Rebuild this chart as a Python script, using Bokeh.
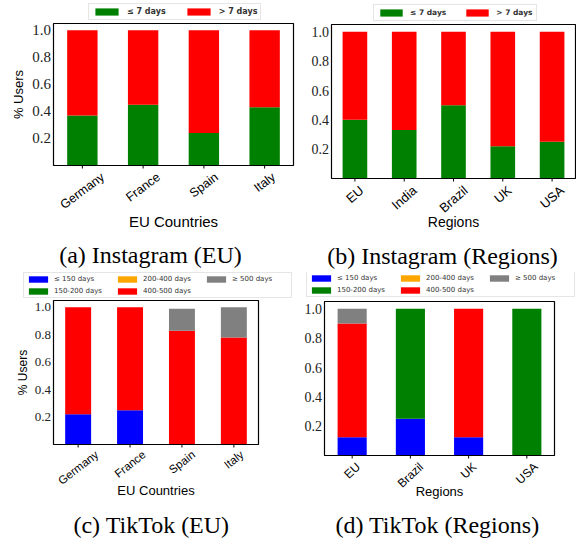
import math
from bokeh.plotting import figure
from bokeh.layouts import column, row
from bokeh.models import Range1d, Legend, LegendItem, ColumnDataSource
from bokeh.core.properties import value
from bokeh.embed import file_html
from bokeh.resources import INLINE

# ---------------- data ----------------
eu_countries = ["Germany", "France", "Spain", "Italy"]
insta_regions = ["EU", "India", "Brazil", "UK", "USA"]
tiktok_regions = ["EU", "Brazil", "UK", "USA"]

insta_legend = ["≤ 7 days", "> 7 days"]
insta_colors = ["#008000", "#ff0000"]
insta_eu_le7 = [0.37, 0.45, 0.24, 0.43]
insta_eu_gt7 = [0.63, 0.55, 0.76, 0.57]
insta_reg_le7 = [0.40, 0.33, 0.50, 0.22, 0.25]
insta_reg_gt7 = [0.60, 0.67, 0.50, 0.78, 0.75]

tiktok_legend = ["≤ 150 days", "150-200 days", "200-400 days", "400-500 days", "≥ 500 days"]
tiktok_colors = ["#0000ff", "#008000", "#ffa500", "#ff0000", "#808080"]
tiktok_eu_le150 = [0.22, 0.25, 0.0, 0.0]
tiktok_eu_150_200 = [0.0, 0.0, 0.0, 0.0]
tiktok_eu_200_400 = [0.0, 0.0, 0.0, 0.0]
tiktok_eu_400_500 = [0.78, 0.75, 0.83, 0.78]
tiktok_eu_ge500 = [0.0, 0.0, 0.16, 0.22]
tiktok_reg_le150 = [0.125, 0.25, 0.125, 0.0]
tiktok_reg_150_200 = [0.0, 0.75, 0.0, 1.0]
tiktok_reg_200_400 = [0.0, 0.0, 0.0, 0.0]
tiktok_reg_400_500 = [0.775, 0.0, 0.875, 0.0]
tiktok_reg_ge500 = [0.10, 0.0, 0.0, 0.0]

y_ticks = [0.2, 0.4, 0.6, 0.8, 1.0]
y_max = 1.05
y_title = "% Users"
x_title_eu = "EU Countries"
x_title_reg = "Regions"
captions = ["(a) Instagram (EU)", "(b) Instagram (Regions)", "(c) TikTok (EU)", "(d) TikTok (Regions)"]

# ---------------- helpers ----------------
SANS_W = {"G": 778, "e": 556, "r": 333, "m": 833, "a": 556, "n": 556, "y": 500, "F": 611,
          "c": 500, "S": 667, "p": 556, "i": 222, "I": 278, "t": 278, "l": 222, "E": 667,
          "U": 722, "d": 556, "B": 667, "z": 500, "K": 667, "A": 667, " ": 278}


def est_width(s, fs):
    return sum(SANS_W.get(ch, 556) for ch in s) / 1000.0 * fs


def make_panel(cats, stacks, colors, names, xtitle, ytitle, caption, cfg):
    n = len(cats)
    xs = list(range(n))
    W, H = cfg["W"], cfg["H"]
    L, R, T, B = cfg["box"]           # plot box inside the canvas (px)
    x_start, x_end = -0.475, n - 1 + 0.475
    ppx = (R - L) / (x_end - x_start)
    ppy = (B - T) / y_max
    xr = Range1d(x_start - L / ppx, x_end + (W - R) / ppx)
    yr = Range1d(-(H - B) / ppy, y_max + T / ppy)

    def dx(px):
        return px / ppx

    def dy(px):
        return px / ppy

    p = figure(width=W, height=H, x_range=xr, y_range=yr, x_axis_type=None, y_axis_type=None,
               output_backend="svg", toolbar_location=None, min_border=0)
    p.outline_line_color = None
    p.background_fill_color = "white"
    p.border_fill_color = "white"

    data = {"x": xs}
    keys = []
    for k, vals in enumerate(stacks):
        data[f"s{k}"] = vals
        keys.append(f"s{k}")
    source = ColumnDataSource(data)
    rends = p.vbar_stack(keys, x="x", width=0.5, source=source,
                         fill_color=colors, line_color=None)

    # plot box and x tick marks
    p.quad(left=[x_start], right=[x_end], bottom=[0], top=[y_max],
           fill_color=None, line_color="black", line_width=1.2)
    p.segment(x0=xs, y0=[0] * n, x1=xs, y1=[-dy(3)] * n, line_color="black", line_width=1)

    # y tick labels
    p.text(x=[x_start] * len(y_ticks), y=y_ticks, text=[f"{t:.1f}" for t in y_ticks],
           x_offset=-2.5, text_align="right", text_baseline="middle",
           text_font=value("Liberation Serif"), text_font_size=f"{cfg['yfs']}px",
           text_color="#222222")

    # rotated category labels, centred under the bars
    fs = cfg["xfs"]
    th = math.radians(cfg["ang"])
    lx = [xs[i] + dx(est_width(c, fs) / 2 * math.cos(th)) for i, c in enumerate(cats)]
    ly = [-dy(cfg["xpad"] + fs / 2 * math.cos(th))] * n
    p.text(x=lx, y=ly, text=cats, angle=th, text_align="right", text_baseline="middle",
           text_font=value("Liberation Sans"), text_font_size=f"{fs}px", text_color="black")

    # x title
    p.text(x=[(x_start + x_end) / 2], y=[-dy(cfg["xl_y"] - B)], text=[xtitle],
           text_align="center", text_baseline="middle",
           text_font=value("Liberation Sans"), text_font_size=f"{cfg['xlfs']}px",
           text_color="black")

    # y title
    if ytitle:
        p.text(x=[x_start - dx(L - cfg["yl_x"])], y=[y_max / 2],
               text=[ytitle], angle=math.pi / 2, text_align="center", text_baseline="middle",
               text_font=value("Liberation Sans"), text_font_size=f"{cfg['ylfs']}px",
               text_color="black")

    # caption (sub-figure label)
    p.text(x=[x_start + dx(cfg["cap_x"] - L)], y=[-dy(cfg["cap_y"] - B)], text=[caption],
           text_align="center", text_baseline="middle",
           text_font=value("Liberation Serif"), text_font_size="24px", text_color="black")

    # legend
    items = [LegendItem(label=nm, renderers=[r]) for nm, r in zip(names, rends)]
    lg = cfg["leg"]
    leg = Legend(items=items, location=lg["loc"], orientation=lg["orient"],
                 label_text_font="DejaVu Sans", label_text_font_size=f"{lg['fs']}px",
                 label_text_font_style=lg["style"], label_text_color="#333333",
                 glyph_width=lg["gw"], glyph_height=lg["gh"], label_height=lg["lh"],
                 label_width=lg["lw"], label_standoff=lg["stand"], spacing=lg["spacing"],
                 padding=lg["pad"], margin=0,
                 border_line_color="#cccccc", border_line_width=1,
                 background_fill_color="white", background_fill_alpha=1.0)
    if "ncols" in lg:
        leg.ncols = lg["ncols"]
    p.add_layout(leg)
    return p


insta_leg_a = dict(loc=(88, 252), orient="horizontal", fs=8, style="bold", gw=29, gh=9, lh=9,
                   lw=20, stand=6, spacing=18, pad=3)
insta_leg_b = dict(loc=(69, 251), orient="horizontal", fs=7.5, style="bold", gw=28, gh=9, lh=9,
                   lw=20, stand=5, spacing=17, pad=3)
tik_leg_c = dict(loc=(23, 242), orient="vertical", ncols=3, fs=7, style="normal", gw=24, gh=8,
                 lh=7, lw=57, stand=4, spacing=4, pad=2)
tik_leg_d = dict(loc=(10, 243), orient="vertical", ncols=3, fs=7, style="normal", gw=24, gh=8,
                 lh=7, lw=57, stand=4, spacing=4, pad=2)

# geometry in canvas pixels: box = (left, right, top, bottom)
cfg_a = dict(W=304, H=272, box=(53, 293, 23, 165), yfs=15, ylfs=13, yl_x=17.5,
             xfs=12.5, ang=37, xpad=5, xlfs=15, xl_y=221, cap_x=150, cap_y=254.5, leg=insta_leg_a)
cfg_b = dict(W=272, H=272, box=(27, 271, 24, 178), yfs=14,
             xfs=13, ang=41, xpad=5, xlfs=14, xl_y=221, cap_x=138, cap_y=255, leg=insta_leg_b)
cfg_c = dict(W=296, H=268, box=(53, 258, 28, 172), yfs=13, ylfs=12, yl_x=22.5,
             xfs=11.5, ang=38, xpad=4, xlfs=13, xl_y=218, cap_x=151, cap_y=252.5, leg=tik_leg_c)
cfg_d = dict(W=280, H=268, box=(28, 258, 29, 183), yfs=14,
             xfs=12, ang=43, xpad=5, xlfs=13, xl_y=219, cap_x=141, cap_y=252.5, leg=tik_leg_d)

pa = make_panel(eu_countries, [insta_eu_le7, insta_eu_gt7], insta_colors, insta_legend,
                x_title_eu, y_title, captions[0], cfg_a)
pb = make_panel(insta_regions, [insta_reg_le7, insta_reg_gt7], insta_colors, insta_legend,
                x_title_reg, None, captions[1], cfg_b)
pc = make_panel(eu_countries, [tiktok_eu_le150, tiktok_eu_150_200, tiktok_eu_200_400,
                               tiktok_eu_400_500, tiktok_eu_ge500], tiktok_colors, tiktok_legend,
                x_title_eu, y_title, captions[2], cfg_c)
pd_ = make_panel(tiktok_regions, [tiktok_reg_le150, tiktok_reg_150_200, tiktok_reg_200_400,
                                  tiktok_reg_400_500, tiktok_reg_ge500], tiktok_colors, tiktok_legend,
                 x_title_reg, None, captions[3], cfg_d)

layout = column(row(pa, pb), row(pc, pd_))
open("out.html", "w").write(file_html(layout, INLINE))
